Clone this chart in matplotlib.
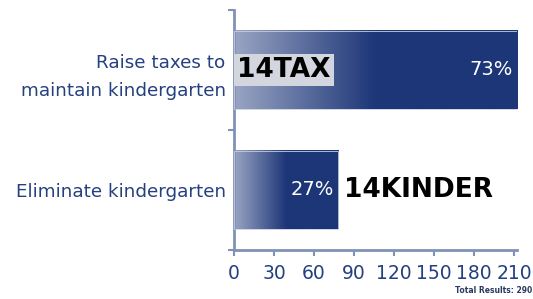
import numpy as np
import matplotlib
matplotlib.use('Agg')
import matplotlib.pyplot as plt
from matplotlib.colors import LinearSegmentedColormap

# datos del grafico
categorias = ['Raise taxes to\nmaintain kindergarten', 'Eliminate kindergarten']
valores = [212, 78]
porcentajes = ['73%', '27%']
etiquetas = ['14TAX', '14KINDER']
ticks_x = [0, 30, 60, 90, 120, 150, 180, 210]
total = 290

azul = '#1c3677'
azul_texto = '#24407f'
eje = '#8190b6'

fig = plt.figure(figsize=(5.33, 2.99), dpi=100)
ax = fig.add_axes([0.439, 0.164, 0.531, 0.803])

cmap = LinearSegmentedColormap.from_list(
    'grad', [(0, '#9aa5c4'), (0.5, azul), (1, azul)])
gradiente = np.linspace(0, 1, 256).reshape(1, -1)

posiciones = [1, 0]
alto = 0.65
for y, v in zip(posiciones, valores):
    ax.imshow(gradiente, cmap=cmap, aspect='auto',
              extent=(0, v, y - alto / 2, y + alto / 2), zorder=2)
    ax.add_patch(plt.Rectangle((0, y - alto / 2), v, alto, fill=False,
                               edgecolor='#c8cedf', lw=0.6, zorder=3))

ax.set_xlim(0, 212)
ax.set_ylim(-0.5, 1.5)

# porcentajes dentro de las barras
for y, v, p in zip(posiciones, valores, porcentajes):
    ax.text(v - 3, y, p, color='white', fontsize=14, ha='right',
            va='center', zorder=4)

# etiquetas en negrita
ax.text(2.5, 1, etiquetas[0], fontsize=19, fontweight='bold',
        color='black', ha='left', va='center',
        zorder=5, bbox=dict(facecolor='#d3d6df', edgecolor='none', pad=2))
ax.text(valores[1] + 4.5, 0, etiquetas[1], fontsize=19, fontweight='bold',
        color='black', ha='left', va='center', zorder=5)

# ejes
ax.set_xticks(ticks_x)
ax.set_xticklabels([str(t) for t in ticks_x], fontsize=13.5, color=azul_texto)
ax.set_yticks(posiciones)
ax.set_yticklabels(categorias, fontsize=13.2, color=azul_texto,
                   linespacing=1.75)
ax.set_yticks([-0.5, 0.5, 1.5], minor=True)
ax.tick_params(axis='y', which='major', length=0, pad=6)
ax.tick_params(axis='y', which='minor', length=4, width=1.5, color=eje)
ax.tick_params(axis='x', length=4, width=1.5, color=eje, pad=6)

for lado in ['top', 'right']:
    ax.spines[lado].set_visible(False)
for lado in ['left', 'bottom']:
    ax.spines[lado].set_color(eje)
    ax.spines[lado].set_linewidth(2)

fig.text(0.998, 0.015, 'Total Results: ' + str(total), fontsize=5.5,
         fontweight='bold', color='#2b3a5e', ha='right', va='bottom')

fig.savefig('out.png', dpi=100)
